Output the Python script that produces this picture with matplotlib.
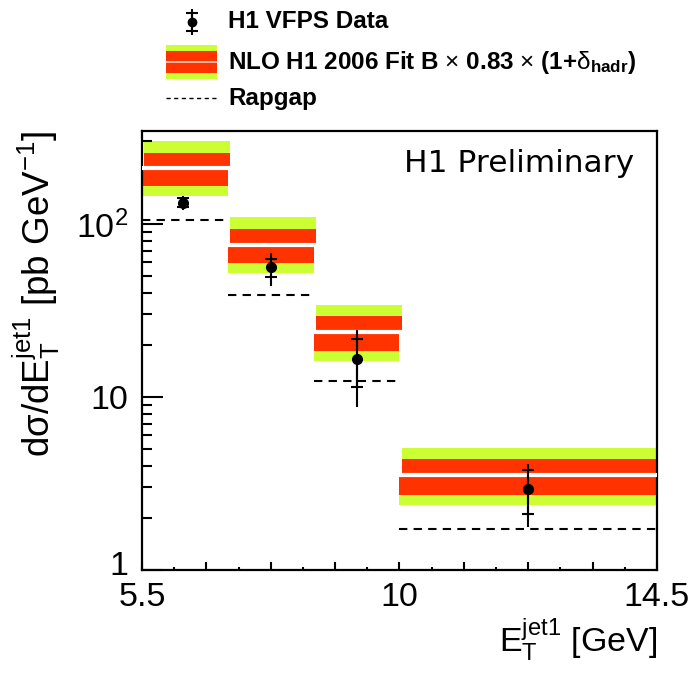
import numpy as np
import matplotlib
matplotlib.use('Agg')
import matplotlib.pyplot as plt
from matplotlib.transforms import ScaledTranslation

plt.rcParams['font.family'] = ['Liberation Sans', 'DejaVu Sans']
plt.rcParams['mathtext.fontset'] = 'custom'
plt.rcParams['mathtext.rm'] = 'Liberation Sans'
plt.rcParams['mathtext.it'] = 'Liberation Sans:italic'
plt.rcParams['mathtext.bf'] = 'Liberation Sans:bold'

# bins in E_T^jet1 [GeV]
bin_edges = [5.5, 7.0, 8.5, 10.0, 14.5]

# H1 VFPS data
data_x = [6.22, 7.76, 9.25, 12.25]
data_y = [133.0, 56.2, 16.5, 2.94]
data_stat = [8.3, 6.7, 5.1, 0.83]
data_tot = [12.0, 12.2, 7.8, 1.17]

# NLO H1 2006 Fit B x 0.83 x (1+delta_hadr)
nlo_central = [211.0, 76.0, 23.7, 3.53]
nlo_inner_lo = [166.0, 59.6, 18.4, 2.71]
nlo_inner_hi = [257.0, 93.5, 29.4, 4.38]
nlo_outer_lo = [146.0, 52.3, 16.1, 2.37]
nlo_outer_hi = [302.0, 110.0, 34.0, 5.07]

# Rapgap
rapgap = [106.0, 38.9, 12.4, 1.73]

green = '#ccff33'
red = '#ff3300'

fig = plt.figure(figsize=(6.94, 6.75), dpi=100)
ax = fig.add_axes([0.2046, 0.1556, 0.742, 0.6504])

edges = np.array(bin_edges)
left = edges[:-1]
width = np.diff(edges)
cen = np.array(nlo_central)
shift = 0.04  # upper half of the band is drawn slightly offset, as in the original

# lower half of the band
ax.bar(left, cen - np.array(nlo_outer_lo), width=width, bottom=nlo_outer_lo,
       align='edge', color=green, linewidth=0, zorder=1)
ax.bar(left, cen - np.array(nlo_inner_lo), width=width, bottom=nlo_inner_lo,
       align='edge', color=red, linewidth=0, zorder=2)
# upper half
ax.bar(left + shift, np.array(nlo_outer_hi) - cen, width=width, bottom=cen,
       align='edge', color=green, linewidth=0, zorder=1)
ax.bar(left + shift, np.array(nlo_inner_hi) - cen, width=width, bottom=cen,
       align='edge', color=red, linewidth=0, zorder=2)
ax.hlines(cen, left, edges[1:] + shift, colors='white', linewidth=3, zorder=3)

# Rapgap
ax.hlines(rapgap, left, edges[1:], colors='black', linestyles=(0, (4, 3)),
          linewidth=1.5, zorder=4)

# data
ax.errorbar(data_x, data_y, yerr=data_tot, fmt='none', ecolor='black',
            elinewidth=1.5, capsize=0, zorder=5)
ax.errorbar(data_x, data_y, yerr=data_stat, fmt='o', color='black',
            markersize=7, elinewidth=1.5, capsize=4.5, capthick=1.5, zorder=6)

ax.set_yscale('log')
ax.set_xlim(5.5, 14.5)
ax.set_ylim(1, 345)

xmaj = np.arange(5.5, 14.51, 1.125)
xmin = np.arange(5.5 + 0.5625, 14.5, 1.125)
xlab = {5.5: '5.5', 10.0: '10', 14.5: '14.5'}
ax.set_xticks(xmaj, [xlab.get(round(v, 3), '') for v in xmaj])
ax.set_xticks(xmin, minor=True)
ax.set_yticks([1, 10, 100], ['1', '10', r'$10^{2}$'])
ax.set_yticks([m * d for d in (1, 10, 100) for m in range(2, 10)
               if m * d < 345], minor=True)
ax.set_yticklabels([], minor=True)

ax.tick_params(axis='x', which='major', direction='in', length=5.5, width=1.5,
               labelsize=24.5, pad=9, top=False)
ax.tick_params(axis='x', which='minor', direction='in', length=2.5, width=1.5,
               top=False)
ax.tick_params(axis='y', which='major', direction='in', length=15, width=1.5,
               labelsize=24.5, pad=10, right=False)
ax.tick_params(axis='y', which='minor', direction='in', length=7.5, width=1.5,
               right=False)
for s in ax.spines.values():
    s.set_linewidth(1.6)

# the lowest y label sits a little higher, clear of the 5.5 label
lab1 = ax.get_yticklabels()[0]
lab1.set_transform(lab1.get_transform() +
                   ScaledTranslation(0, 5 / 72, fig.dpi_scale_trans))

ax.set_xlabel(r'E$_{\mathrm{T}}^{\mathrm{jet1}}$ [GeV]', fontsize=24.5,
              loc='right', labelpad=2)
ax.set_ylabel(r'd$\mathrm{\sigma}$/dE$_{\mathrm{T}}^{\mathrm{jet1}}$ [pb GeV$^{\mathrm{-1}}$]',
              fontsize=26.5, loc='top')
ax.yaxis.set_label_coords(-0.155, 1.0)

ax.text(0.955, 0.925, 'H1 Preliminary', transform=ax.transAxes, ha='right',
        va='center', fontsize=22.5, family='DejaVu Sans')

# legend, drawn in pixel coordinates above the frame
lax = fig.add_axes([0, 0, 1, 1], zorder=-1)
lax.set_xlim(0, 694)
lax.set_ylim(675, 0)
lax.axis('off')
lax.errorbar([192], [22], yerr=[13], fmt='none', ecolor='black',
             elinewidth=1.5, capsize=0)
lax.errorbar([192], [22], yerr=[9], fmt='o', color='black', markersize=6,
             elinewidth=1.5, capsize=4, capthick=1.5)
lax.bar([166], [34], width=51, bottom=45, align='edge', color=green, linewidth=0)
lax.bar([166], [22], width=51, bottom=51, align='edge', color=red, linewidth=0)
lax.hlines([62], 166, 217, colors='#ffd0c0', linewidth=1.2)
lax.hlines([98], 166, 217, colors='black', linestyles=(0, (3, 2.5)), linewidth=1)
legend_labels = ['H1 VFPS Data',
                 r'NLO H1 2006 Fit B $\times$ 0.83 $\times$ (1+$\mathrm{\delta}_{\mathbf{hadr}}$)',
                 'Rapgap']
for yy, txt in zip([22, 63, 98], legend_labels):
    lax.text(228, yy, txt, ha='left', va='center', fontsize=17.5,
             fontweight='bold')

fig.savefig('out.png', dpi=100)
